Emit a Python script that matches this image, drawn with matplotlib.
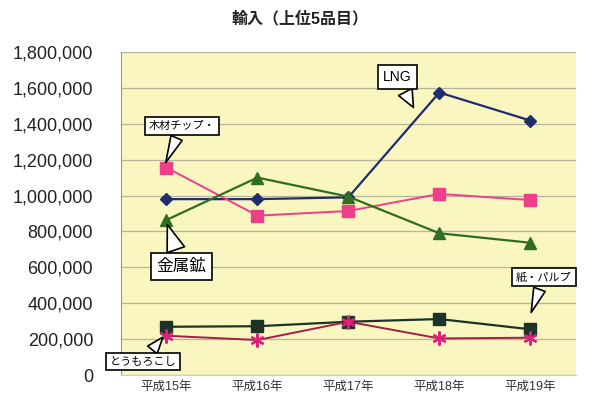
import matplotlib
matplotlib.use('Agg')
import matplotlib.pyplot as plt
from matplotlib.ticker import FuncFormatter

plt.rcParams['font.family'] = ['Liberation Sans', 'Noto Sans CJK JP', 'DejaVu Sans']

years = ['平成15年', '平成16年', '平成17年', '平成18年', '平成19年']
lng = [980000, 980000, 990000, 1574000, 1418000]
wood_chip = [1156000, 888000, 914000, 1009000, 975000]
metal_ore = [864000, 1100000, 994000, 790000, 737000]
paper_pulp = [269000, 272000, 297000, 312000, 255000]
corn = [219000, 195000, 297000, 204000, 208000]

fig = plt.figure(figsize=(5.96, 4.09), dpi=100)
ax = fig.add_axes([0.203, 0.083, 0.763, 0.79])
ax.set_facecolor('#f9f6bf')

x = list(range(len(years)))
ax.plot(x, lng, '-D', color='#1f2d6e', ms=6, lw=1.6, zorder=3)
ax.plot(x, wood_chip, '-s', color='#ee3f8a', ms=8, lw=1.4, zorder=3)
ax.plot(x, metal_ore, '-^', color='#2f6e22', ms=8, lw=1.6, zorder=3)
ax.plot(x, paper_pulp, '-s', color='#1b3328', ms=8, lw=1.6, zorder=3)
ax.plot(x, corn, '-', color='#a0204a', lw=1.4, zorder=3)
ax.plot(x, corn, linestyle='none', marker=(6, 2, 0), color='#e0207a', ms=10, mew=1.6, zorder=4)

ax.set_xlim(-0.5, 4.5)
ax.set_ylim(0, 1800000)
ax.set_yticks(range(0, 1800001, 200000))
ax.yaxis.set_major_formatter(FuncFormatter(lambda v, p: '{:,}'.format(int(v))))
ax.set_xticks(x)
ax.set_xticklabels(years, fontsize=9, color='#333333')
ax.tick_params(axis='y', labelsize=13, length=0, pad=20, colors='#222222')
ax.tick_params(axis='x', length=0, pad=4)
ax.grid(axis='y', color='#b8b49a', lw=0.9)
ax.set_axisbelow(True)
for s in ['top', 'right']:
    ax.spines[s].set_visible(False)
ax.spines['left'].set_color('#999999')
ax.spines['bottom'].set_color('#cccccc')

fig.text(0.503, 0.955, '輸入（上位5品目）', ha='center', va='center', fontsize=11.5,
         fontweight='bold', color='#222222')

box = dict(boxstyle='square,pad=0.35', fc='white', ec='black', lw=1.2)
arrow = dict(arrowstyle='wedge,tail_width=1.1,shrink_factor=0.5', fc='white', ec='black', lw=1.2)

callouts = [
    ('木材チップ・', (-0.02, 1170000), (0.17, 1388000), 8),
    ('金属鉱', (0.0, 853000), (0.165, 605000), 12),
    ('LNG', (2.73, 1477000), (2.54, 1660000), 10),
    ('紙・パルプ', (4.0, 334000), (4.15, 546000), 8),
    ('とうもろこし', (-0.02, 223000), (-0.26, 75000), 8),
]
for label, tip, pos, fs in callouts:
    ax.annotate(label, xy=tip, xytext=pos, ha='center', va='center', fontsize=fs,
                bbox=box, arrowprops=arrow, zorder=6, annotation_clip=False)

fig.savefig('out.png', dpi=100, facecolor='white')
